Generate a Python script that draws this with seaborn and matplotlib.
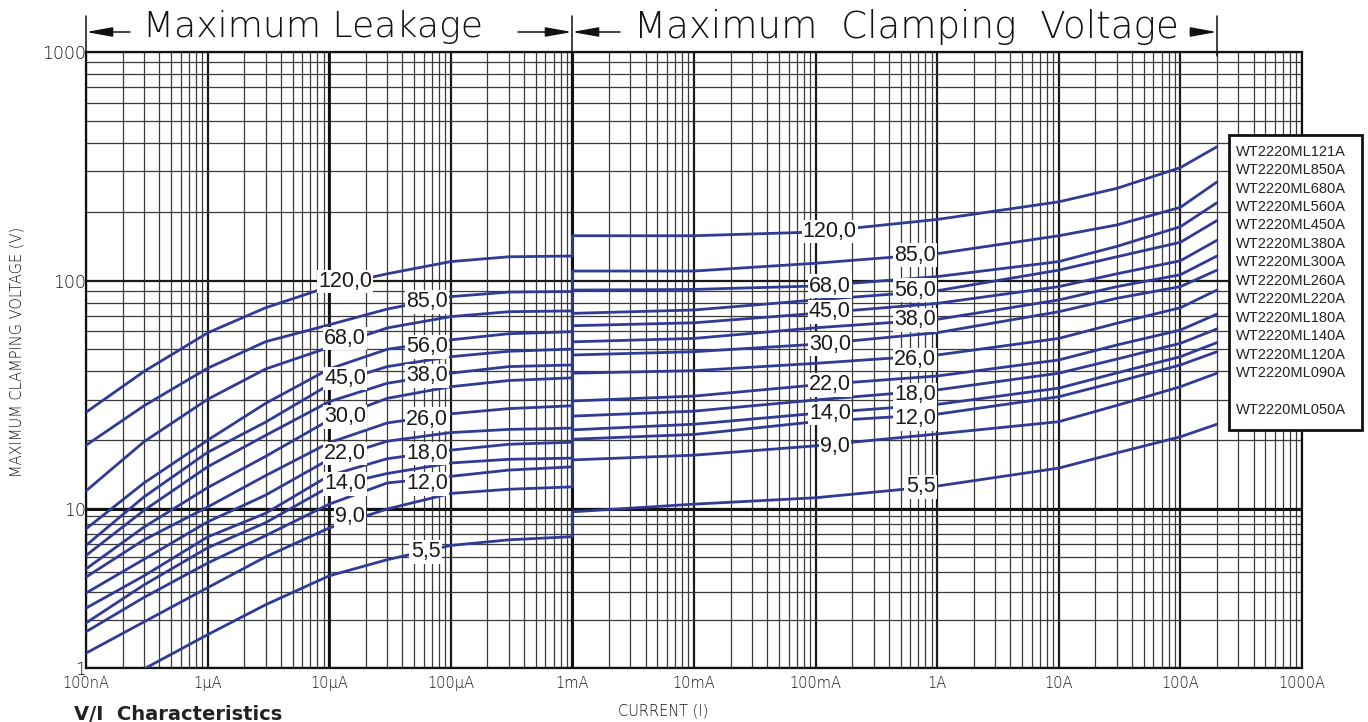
import numpy as np
import pandas as pd
import matplotlib
matplotlib.use("Agg")
import matplotlib.pyplot as plt
from matplotlib.patches import Rectangle
from matplotlib.lines import Line2D
from matplotlib.ticker import FixedLocator, NullFormatter
import seaborn as sns

# --------------------------------------------------------------------
# DATA
# --------------------------------------------------------------------
models = ["WT2220ML121A", "WT2220ML850A", "WT2220ML680A", "WT2220ML560A",
          "WT2220ML450A", "WT2220ML380A", "WT2220ML300A", "WT2220ML260A",
          "WT2220ML220A", "WT2220ML180A", "WT2220ML140A", "WT2220ML120A",
          "WT2220ML090A", "WT2220ML050A"]

leak_current = [1e-7, 3e-7, 1e-6, 3e-6, 1e-5, 3e-5, 1e-4, 3e-4, 1e-3]
leak_current_050 = [3.1e-7, 1e-6, 3e-6, 1e-5, 3e-5, 1e-4, 3e-4, 1e-3]
clamp_current = [1e-3, 1e-2, 1e-1, 1, 10, 30, 100, 200]

leak_121 = [26.5, 40, 59, 76, 94, 107, 121, 127, 128]
leak_850 = [19, 28.3, 41.3, 54, 64, 75, 85, 89, 89.5]
leak_680 = [12, 19.7, 30.2, 41, 51, 62, 69.5, 73, 73.6]
leak_560 = [7.5, 13, 20, 29, 41, 50, 55, 58.5, 59.7]
leak_450 = [5.9, 11.3, 17.7, 24, 35, 42, 46.4, 49, 50.1]
leak_380 = [5.1, 9.8, 15.3, 21, 29.5, 35.5, 39.3, 42, 42.7]
leak_300 = [4.2, 7.7, 12.4, 17, 24.5, 30.5, 34.3, 36.5, 37.5]
leak_260 = [3.73, 6.4, 10.2, 14, 19.5, 23.8, 26.1, 27.5, 28.3]
leak_220 = [2.96, 4.83, 8.3, 11.5, 16.5, 19.8, 21.6, 22.3, 22.6]
leak_180 = [2.38, 3.8, 6.67, 9.4, 14, 16.6, 18.1, 19.2, 19.6]
leak_140 = [1.92, 3.33, 5.7, 8.2, 12.5, 14.3, 15.9, 16.5, 16.7]
leak_120 = [1.69, 2.78, 4.57, 6.8, 10.5, 13, 13.9, 14.8, 15.3]
leak_090 = [1.24, 1.95, 3.2, 5.0, 7.6, 10, 11.7, 12.2, 12.5]
leak_050 = [1.0, 1.62, 2.5, 3.8, 4.8, 5.9, 6.4, 6.7]

clamp_121 = [157, 157, 163, 185, 221, 253, 312, 385]
clamp_850 = [110, 110, 119, 131, 157, 175, 209, 270]
clamp_680 = [90.8, 91.4, 94.6, 104, 121, 141, 172, 219]
clamp_560 = [71.8, 74.3, 82.2, 90.2, 111, 127, 147, 183]
clamp_450 = [63.4, 65.3, 71.8, 79.4, 94, 107, 122, 150]
clamp_380 = [53.9, 55.8, 62.1, 67.6, 82.2, 94, 106, 128]
clamp_300 = [47.2, 48.8, 52.6, 59.1, 73, 83.6, 94, 111]
clamp_260 = [39.3, 40.3, 43.4, 47.2, 55.8, 65, 76, 90.9]
clamp_220 = [29.7, 31.2, 34.9, 38.2, 44.9, 52.2, 60.7, 71.3]
clamp_180 = [25.5, 26.8, 30.0, 33.2, 39.3, 45.3, 53.1, 61.4]
clamp_140 = [22.2, 23.5, 26.2, 28.7, 33.8, 39.4, 46.4, 53.5]
clamp_120 = [20.2, 21.2, 24.1, 26.0, 31.0, 36, 42.7, 48.8]
clamp_090 = [16.4, 17.2, 18.9, 21.3, 24.1, 28.4, 34.3, 39.3]
clamp_050 = [9.6, 10.5, 11.2, 12.6, 15.1, 17.6, 20.7, 23.5]

x_ticks = [1e-7, 1e-6, 1e-5, 1e-4, 1e-3, 1e-2, 1e-1, 1, 10, 100, 1000]
x_labels = ["100nA", "1\u03bcA", "10\u03bcA", "100\u03bcA", "1mA", "10mA",
            "100mA", "1A", "10A", "100A", "1000A"]
y_ticks = [1, 10, 100, 1000]
y_labels = ["1", "10", "100", "1000"]

# curve labels: (text, current, voltage)
curve_labels = [
    ("120,0", 1.35e-5, 98.8), ("68,0", 1.35e-5, 55.8), ("45,0", 1.35e-5, 37.3),
    ("30,0", 1.35e-5, 25.3), ("22,0", 1.35e-5, 17.5), ("14,0", 1.35e-5, 12.9),
    ("9,0", 1.48e-5, 8.95),
    ("85,0", 6.4e-5, 80.7), ("56,0", 6.4e-5, 51.3), ("38,0", 6.4e-5, 38.2),
    ("26,0", 6.4e-5, 24.7), ("18,0", 6.4e-5, 17.5), ("12,0", 6.4e-5, 12.9),
    ("5,5", 6.2e-5, 5.38),
    ("120,0", 0.131, 164), ("68,0", 0.131, 94.6), ("45,0", 0.131, 73),
    ("30,0", 0.131, 52.7), ("22,0", 0.131, 34.9), ("14,0", 0.131, 26.2),
    ("9,0", 0.144, 18.8),
    ("85,0", 0.656, 129), ("56,0", 0.656, 90.8), ("38,0", 0.656, 67.2),
    ("26,0", 0.656, 45.2), ("18,0", 0.656, 31.6), ("12,0", 0.656, 24.8),
    ("5,5", 0.73, 12.5),
]

leaks = [leak_121, leak_850, leak_680, leak_560, leak_450, leak_380, leak_300,
         leak_260, leak_220, leak_180, leak_140, leak_120, leak_090, leak_050]
clamps = [clamp_121, clamp_850, clamp_680, clamp_560, clamp_450, clamp_380,
          clamp_300, clamp_260, clamp_220, clamp_180, clamp_140, clamp_120,
          clamp_090, clamp_050]

rows = []
for model, lv, cv in zip(models, leaks, clamps):
    lc = leak_current_050 if model.endswith("050A") else leak_current
    for i, (c, v) in enumerate(zip(lc + clamp_current, lv + cv)):
        rows.append({"model": model, "order": i, "current": c, "voltage": v})
df = pd.DataFrame(rows)

# --------------------------------------------------------------------
# FIGURE
# --------------------------------------------------------------------
sns.set_theme(style="white")
plt.rcParams["font.family"] = ["DejaVu Sans"]

W, H = 1368, 722
fig = plt.figure(figsize=(W / 100, H / 100), dpi=100)
ax = fig.add_axes([86 / W, 1 - 668 / H, (1302 - 86) / W, (668 - 52) / H])


def px(x, y):
    return x / W, 1 - y / H


# the bottom decade of the paper is squeezed
K = 159 / 228.5


def fwd(v):
    lv = np.log10(np.clip(np.asarray(v, dtype=float), 1e-12, None))
    return np.where(lv >= 1, lv, 1 + (lv - 1) * K)


def inv(t):
    t = np.asarray(t, dtype=float)
    with np.errstate(over="ignore"):
        return np.where(t >= 1, 10.0 ** t, 10.0 ** (1 + (t - 1) / K))


ax.set_xscale("log")
ax.set_yscale("function", functions=(fwd, inv))

sns.lineplot(data=df, x="current", y="voltage", units="model", estimator=None,
             sort=False, color="#2f3b95", linewidth=2.0, legend=False, ax=ax,
             zorder=3)

ax.set_xlim(1e-7, 1e3)
ax.set_ylim(1, 1000)

ax.xaxis.set_major_locator(FixedLocator(x_ticks))
ax.set_xticklabels(x_labels)
ax.xaxis.set_minor_locator(FixedLocator(
    [m * 10.0 ** e for e in range(-7, 3) for m in range(2, 10)]))
ax.xaxis.set_minor_formatter(NullFormatter())
ax.yaxis.set_major_locator(FixedLocator(y_ticks))
ax.set_yticklabels(y_labels)
ax.yaxis.set_minor_locator(FixedLocator(
    [m * 10.0 ** e for e in range(0, 3) for m in range(2, 10)]))
ax.yaxis.set_minor_formatter(NullFormatter())

ax.grid(which="major", color="#1a1a1a", linewidth=1.6, zorder=1)
ax.grid(which="minor", color="#3a3a3a", linewidth=0.9, zorder=1)
ax.set_axisbelow(True)
ax.axhline(10, color="#111111", linewidth=2.2, zorder=1.5)
ax.axvline(1e-3, color="#111111", linewidth=2.2, zorder=1.5)
ax.axvline(1e-5, color="#111111", linewidth=2.0, zorder=1.5)

for s in ax.spines.values():
    s.set_color("#111111")
    s.set_linewidth(1.6)

ax.tick_params(which="both", length=0)
ax.tick_params(axis="x", pad=6)
ax.tick_params(axis="y", pad=0)
for t in ax.get_xticklabels():
    t.set_fontsize(10.5)
    t.set_fontweight(200)
    t.set_color("#111111")
for t in ax.get_yticklabels():
    t.set_fontsize(12.5)
    t.set_fontweight(200)
    t.set_color("#111111")

ax.set_xlabel("")
ax.set_ylabel("")
fig.text(*px(17, 352), "MAXIMUM CLAMPING VOLTAGE (V)", rotation=90,
         ha="center", va="center", fontsize=10.5, fontweight=200,
         color="#111111")
fig.text(*px(663, 711), "CURRENT (I)", ha="center", va="center",
         fontsize=10.5, fontweight=200, color="#111111")

# curve labels
for txt, cx, cy in curve_labels:
    ax.text(cx, cy, txt, ha="center", va="center", fontsize=15.5,
            family=["Liberation Sans", "DejaVu Sans"], color="#1a1a1a",
            zorder=5,
            bbox=dict(boxstyle="square,pad=0.06", fc="white", ec="none"))

# header with dimension arrows
hdr = dict(fontsize=26, fontweight=200, color="#111111", va="center")
fig.text(*px(143, 27), "Maximum Leakage", ha="left", **hdr)
fig.text(*px(634, 27), "Maximum  Clamping  Voltage", ha="left",
         **dict(hdr, fontsize=26.8))

arrow = dict(arrowstyle="-|>,head_length=1.0,head_width=0.18", lw=1.1,
             color="#111111", shrinkA=0, shrinkB=0, mutation_scale=16)
for x0, x1 in [(130, 86), (518, 572), (620, 572), (1190, 1217)]:
    ax.annotate("", xy=px(x1, 32), xytext=px(x0, 32),
                xycoords="figure fraction", textcoords="figure fraction",
                arrowprops=arrow, annotation_clip=False)
for xv in [86, 572, 1217]:
    fig.add_artist(Line2D([xv / W, xv / W], [1 - 16 / H, 1 - 56 / H],
                          transform=fig.transFigure, color="#111111", lw=1.1))

# model list box on the right
x0, y0 = px(1229, 430)
x1, y1 = px(1362, 135)
fig.add_artist(Rectangle((x0, y0), x1 - x0, y1 - y0, transform=fig.transFigure,
                         fc="white", ec="#111111", lw=2.0, zorder=10))
row_y = [151.7 + i * 18.45 for i in range(13)] + [410]
for name, ry in zip(models, row_y):
    fig.text(*px(1236, ry), name, ha="left", va="center", fontsize=10.5,
             family=["Liberation Sans", "DejaVu Sans"], color="#222222",
             zorder=11)

# footer caption
fig.text(*px(74, 720), "V/I  Characteristics", ha="left", va="baseline",
         fontsize=14, fontweight="bold", color="#222222")

fig.savefig("out.png", dpi=100, facecolor="white")
